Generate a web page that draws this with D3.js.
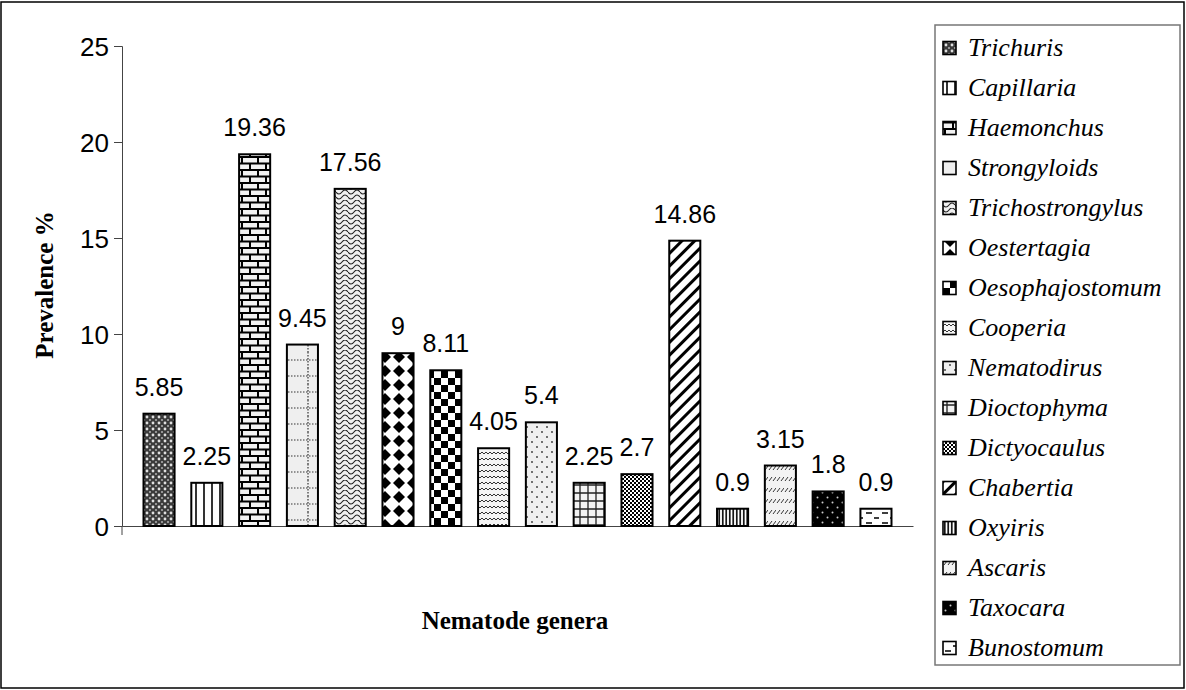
<!DOCTYPE html>
<html>
<head>
<meta charset="utf-8">
<script src="https://cdn.jsdelivr.net/npm/d3@7"></script>
<style>
  body { margin: 0; background: #fff; }
</style>
</head>
<body>
<svg id="chart" width="1186" height="690"></svg>
<script>
// data
var genera = ["Trichuris", "Capillaria", "Haemonchus", "Strongyloids", "Trichostrongylus",
  "Oestertagia", "Oesophajostomum", "Cooperia", "Nematodirus", "Dioctophyma",
  "Dictyocaulus", "Chabertia", "Oxyiris", "Ascaris", "Taxocara", "Bunostomum"];
var prevalence = [5.85, 2.25, 19.36, 9.45, 17.56, 9, 8.11, 4.05, 5.4, 2.25, 2.7, 14.86, 0.9, 3.15, 1.8, 0.9];
var valueLabels = ["5.85", "2.25", "19.36", "9.45", "17.56", "9", "8.11", "4.05", "5.4", "2.25", "2.7", "14.86", "0.9", "3.15", "1.8", "0.9"];
var yTicks = [0, 5, 10, 15, 20, 25];
var patternIds = ["trellis", "vlines", "brick", "dotgrid", "shingle", "diamond", "checker", "wave",
  "confetti", "plaid", "smallcheck", "diag", "densev", "dashdiag", "blackdots", "hdash"];

var serif = "'Liberation Serif', 'Times New Roman', serif";
var sans = "'Liberation Sans', Arial, sans-serif";

var svg = d3.select("#chart");
var defs = svg.append("defs");

function pat(id, w, h, bg) {
  var p = defs.append("pattern").attr("id", id).attr("patternUnits", "userSpaceOnUse")
    .attr("width", w).attr("height", h);
  p.append("rect").attr("width", w).attr("height", h).attr("fill", bg);
  return p;
}

// Trichuris - gray trellis
var p = pat("trellis", 6, 6, "#3a3a3a");
p.append("circle").attr("cx", 3).attr("cy", 3).attr("r", 1.4).attr("fill", "#e0e0e0");
p.append("circle").attr("cx", 0).attr("cy", 0).attr("r", 1.1).attr("fill", "#aaa");
p.append("circle").attr("cx", 6).attr("cy", 0).attr("r", 1.1).attr("fill", "#aaa");
p.append("circle").attr("cx", 0).attr("cy", 6).attr("r", 1.1).attr("fill", "#aaa");
p.append("circle").attr("cx", 6).attr("cy", 6).attr("r", 1.1).attr("fill", "#aaa");
// Capillaria - vertical lines
p = pat("vlines", 8, 8, "#fff");
p.append("line").attr("x1", 4).attr("x2", 4).attr("y1", 0).attr("y2", 8).attr("stroke", "#000").attr("stroke-width", 1.6);
// Haemonchus - bricks
p = pat("brick", 16, 13, "#f2f2f2");
p.append("path").attr("d", "M0,1 H16 M0,7.5 H16 M2,1 V7.5 M10,7.5 V13").attr("stroke", "#000").attr("stroke-width", 2).attr("fill", "none");
// Strongyloids - dotted grid
p = pat("dotgrid", 32, 16, "#efefef");
p.append("path").attr("d", "M0,8 H32 M20,0 V16").attr("stroke", "#333").attr("stroke-width", 1.2).attr("stroke-dasharray", "1.5,1.5").attr("fill", "none");
// Trichostrongylus - shingles
p = pat("shingle", 12, 10, "#f0f0f0");
p.append("path").attr("d", "M0,2 Q3,6 6,2 Q9,-2 12,2 M0,7 Q3,11 6,7 Q9,3 12,7")
  .attr("stroke", "#222").attr("stroke-width", 1.1).attr("fill", "none");
// Oestertagia - diamonds
p = pat("diamond", 14, 14, "#fff");
p.append("path").attr("d", "M7,1 L13,7 L7,13 L1,7 Z").attr("fill", "#000");
// Oesophajostomum - checkerboard
p = pat("checker", 14, 14, "#fff");
p.append("rect").attr("width", 7).attr("height", 7).attr("fill", "#000");
p.append("rect").attr("x", 7).attr("y", 7).attr("width", 7).attr("height", 7).attr("fill", "#000");
// Cooperia - waves
p = pat("wave", 8, 6, "#f5f5f5");
p.append("path").attr("d", "M0,4 L2,2 L4,4 L6,2 L8,4").attr("stroke", "#333").attr("stroke-width", 1).attr("fill", "none");
// Nematodirus - confetti
p = pat("confetti", 10, 10, "#efefef");
p.append("circle").attr("cx", 2).attr("cy", 2).attr("r", 0.9).attr("fill", "#333");
p.append("circle").attr("cx", 7).attr("cy", 7).attr("r", 0.9).attr("fill", "#333");
// Dioctophyma - plaid
p = pat("plaid", 16, 16, "#f3f3f3");
p.append("path").attr("d", "M4,0 V16 M12,0 V16 M0,5 H16 M0,13 H16").attr("stroke", "#222").attr("stroke-width", 1.3).attr("fill", "none");
// Dictyocaulus - small checker
p = pat("smallcheck", 4, 4, "#fff");
p.append("rect").attr("width", 2).attr("height", 2).attr("fill", "#000");
p.append("rect").attr("x", 2).attr("y", 2).attr("width", 2).attr("height", 2).attr("fill", "#000");
// Chabertia - wide diagonal
p = pat("diag", 9, 9, "#fff").attr("patternTransform", "rotate(45)");
p.append("line").attr("x1", 4.5).attr("x2", 4.5).attr("y1", 0).attr("y2", 9).attr("stroke", "#000").attr("stroke-width", 3);
// Oxyiris - dense vertical
p = pat("densev", 3.5, 4, "#fff");
p.append("line").attr("x1", 1.75).attr("x2", 1.75).attr("y1", 0).attr("y2", 4).attr("stroke", "#000").attr("stroke-width", 1.6);
// Ascaris - dashed diagonals
p = pat("dashdiag", 8, 11, "#f3f3f3");
p.append("path").attr("d", "M1,8 L4,4 M5,8 L8,4").attr("stroke", "#333").attr("stroke-width", 1).attr("fill", "none");
// Taxocara - black with white dots
p = pat("blackdots", 10, 10, "#000");
p.append("circle").attr("cx", 2.5).attr("cy", 2.5).attr("r", 1).attr("fill", "#ccc");
p.append("circle").attr("cx", 7.5).attr("cy", 7.5).attr("r", 1).attr("fill", "#ccc");
// Bunostomum - horizontal dashes
p = pat("hdash", 16, 10, "#fff");
p.append("path").attr("d", "M2,3 H8 M10,8 H15").attr("stroke", "#000").attr("stroke-width", 1.5).attr("fill", "none");

// outer border
svg.append("rect").attr("x", 1).attr("y", 2).attr("width", 1183).attr("height", 686)
  .attr("fill", "none").attr("stroke", "#000").attr("stroke-width", 1.5);

var x = d3.scaleBand().domain(genera).range([122, 913]).paddingInner(0.35).paddingOuter(0.45);
var y = d3.scaleLinear().domain([0, 25]).range([526, 46]);

// y axis
var yAxis = svg.append("g").attr("transform", "translate(122,0)")
  .call(d3.axisLeft(y).tickValues(yTicks).tickSize(8).tickPadding(5));
yAxis.select(".domain").attr("stroke", "#444");
yAxis.selectAll(".tick line").attr("stroke", "#444");
yAxis.selectAll(".tick text").attr("font-family", sans)
  .attr("font-size", 26).attr("fill", "#000").attr("dy", "0.35em");

// x axis
var xAxis = svg.append("g").attr("transform", "translate(0,526)")
  .call(d3.axisBottom(x).tickSize(0).tickFormat(""));
xAxis.select(".domain").attr("stroke", "#444");
svg.append("line").attr("x1", 122).attr("x2", 122).attr("y1", 526).attr("y2", 535).attr("stroke", "#444");

// bars
svg.append("g").selectAll("rect").data(genera).enter().append("rect")
  .attr("x", function (d) { return x(d); })
  .attr("y", function (d, i) { return y(prevalence[i]); })
  .attr("width", x.bandwidth())
  .attr("height", function (d, i) { return y(0) - y(prevalence[i]); })
  .attr("fill", function (d, i) { return "url(#" + patternIds[i] + ")"; })
  .attr("stroke", "#000").attr("stroke-width", 2);

// value labels
svg.append("g").selectAll("text").data(genera).enter().append("text")
  .attr("x", function (d) { return x(d) + x.bandwidth() / 2; })
  .attr("y", function (d, i) { return y(prevalence[i]) - 18; })
  .attr("text-anchor", "middle")
  .attr("font-family", sans).attr("font-size", 25)
  .text(function (d, i) { return valueLabels[i]; });

// axis titles
svg.append("text").attr("transform", "translate(53,285) rotate(-90)")
  .attr("text-anchor", "middle").attr("font-family", serif)
  .attr("font-weight", "bold").attr("font-size", 25).text("Prevalence %");
svg.append("text").attr("x", 515).attr("y", 629)
  .attr("text-anchor", "middle").attr("font-family", serif)
  .attr("font-weight", "bold").attr("font-size", 25).text("Nematode genera");

// legend
var legend = svg.append("g");
legend.append("rect").attr("x", 935).attr("y", 25).attr("width", 245).attr("height", 640)
  .attr("fill", "#fff").attr("stroke", "#777").attr("stroke-width", 1.5);
var items = legend.selectAll("g.item").data(genera).enter().append("g")
  .attr("class", "item")
  .attr("transform", function (d, i) { return "translate(943," + (48 + i * 40) + ")"; });
items.append("rect").attr("x", 0).attr("y", -6.5).attr("width", 13).attr("height", 13)
  .attr("fill", function (d, i) { return "url(#" + patternIds[i] + ")"; })
  .attr("stroke", "#000").attr("stroke-width", 1.6);
items.append("text").attr("x", 25).attr("y", 8)
  .attr("font-family", serif).attr("font-style", "italic").attr("font-size", 26)
  .text(function (d) { return d; });
</script>
</body>
</html>
